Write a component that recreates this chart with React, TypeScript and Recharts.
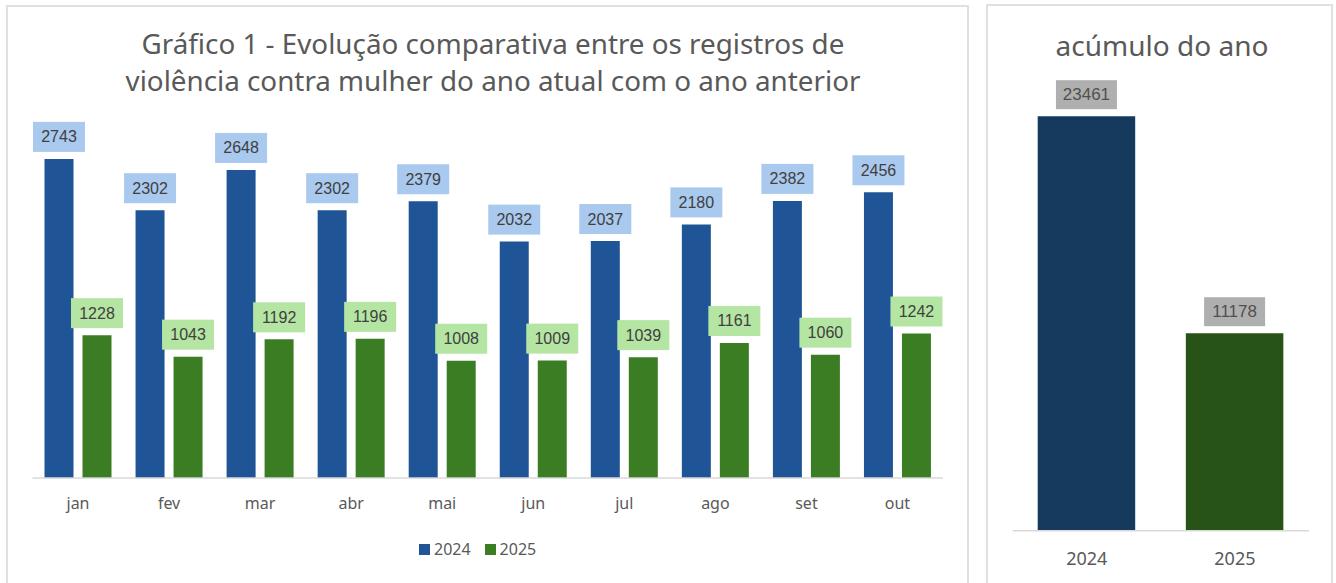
import React from 'react';
import { BarChart, Bar, XAxis, YAxis, LabelList, Cell } from 'recharts';

const months = ['jan', 'fev', 'mar', 'abr', 'mai', 'jun', 'jul', 'ago', 'set', 'out'];
const values2024 = [2743, 2302, 2648, 2302, 2379, 2032, 2037, 2180, 2382, 2456];
const values2025 = [1228, 1043, 1192, 1196, 1008, 1009, 1039, 1161, 1060, 1242];
const seriesNames = ['2024', '2025'];
const totalYears = ['2024', '2025'];
const totals = [23461, 11178];

const titleLeft1 = 'Gráfico 1 - Evolução comparativa entre os registros de';
const titleLeft2 = 'violência contra mulher do ano atual com o ano anterior';
const titleRight = 'acúmulo do ano';

const BLUE = '#1F5596';
const GREEN = '#3B7D23';
const LIGHT_BLUE = '#A9C9EE';
const LIGHT_GREEN = '#B4E5A2';
const DARK_BLUE = '#163A5E';
const DARK_GREEN = '#275317';
const GRAY_BOX = '#AFAFAF';
const TEXT = '#595959';
const SANS = '"Noto Sans", "Open Sans", sans-serif';
const NUM = '"Liberation Sans", Arial, sans-serif';

const monthData = months.map((m, i) => ({ name: m, a: values2024[i], b: values2025[i] }));
const totalData = totalYears.map((y, i) => ({ name: y, v: totals[i] }));

const makeLabel = (fill: string, bw: number, bh: number, fs: number, color: string) => (props: any) => {
  const { x, y, width, value } = props;
  const cx = Number(x) + Number(width) / 2;
  const top = Number(y) - 7 - bh;
  return (
    <g>
      <rect x={cx - bw / 2} y={top} width={bw} height={bh} fill={fill} />
      <text x={cx} y={top + bh / 2} textAnchor="middle" dominantBaseline="central" fontFamily={NUM} fontSize={fs} fill={color}>
        {value}
      </text>
    </g>
  );
};

export default function App() {
  return (
    <div style={{ position: 'absolute', left: 0, top: 0, width: 1336, height: 583, background: '#fff', overflow: 'hidden' }}>
      <div style={{ position: 'absolute', left: 6, top: 5, width: 963, height: 600, border: '2px solid #e0e0e0', boxSizing: 'border-box' }} />
      <div style={{ position: 'absolute', left: 986, top: 4, width: 347, height: 600, border: '2px solid #e0e0e0', boxSizing: 'border-box' }} />

      <div style={{ position: 'absolute', left: 0, top: 25, width: 986, textAlign: 'center', fontFamily: SANS, fontSize: 27.8, lineHeight: '37px', color: TEXT }}>
        <div>{titleLeft1}</div>
        <div>{titleLeft2}</div>
      </div>

      <div style={{ position: 'absolute', left: 0, top: 0 }}>
        <BarChart width={970} height={583} data={monthData} margin={{ top: 129, right: 27, left: 32.5, bottom: 75 }} barGap={9} barSize={29}>
          <YAxis hide domain={[0, 3000]} />
          <XAxis dataKey="name" height={30} axisLine={{ stroke: '#d9d9d9', strokeWidth: 1.5 }} tickLine={false} tickMargin={14}
            tick={{ fill: TEXT, fontSize: 16, fontFamily: SANS }} interval={0} />
          <Bar dataKey="a" name={seriesNames[0]} fill={BLUE} isAnimationActive={false}>
            <LabelList dataKey="a" content={makeLabel(LIGHT_BLUE, 52, 30, 16, '#404040')} />
          </Bar>
          <Bar dataKey="b" name={seriesNames[1]} fill={GREEN} isAnimationActive={false}>
            <LabelList dataKey="b" content={makeLabel(LIGHT_GREEN, 52, 30, 16, '#404040')} />
          </Bar>
        </BarChart>
      </div>

      <div style={{ position: 'absolute', left: 419, top: 538, display: 'flex', alignItems: 'center', fontFamily: SANS, fontSize: 16, color: TEXT }}>
        {seriesNames.map((s, i) => (
          <div key={s} style={{ display: 'flex', alignItems: 'center', marginRight: 14 }}>
            <span style={{ display: 'inline-block', width: 11, height: 11, background: i === 0 ? BLUE : GREEN, marginRight: 4 }} />
            <span>{s}</span>
          </div>
        ))}
      </div>

      <div style={{ position: 'absolute', left: 986, top: 27, width: 352, textAlign: 'center', fontFamily: SANS, fontSize: 28, lineHeight: '37px', color: TEXT }}>
        {titleRight}
      </div>
      <div style={{ position: 'absolute', left: 986, top: 0 }}>
        <BarChart width={347} height={583} data={totalData} margin={{ top: 89, right: 24, left: 26.7, bottom: 22.3 }} barSize={97.5}>
          <YAxis hide domain={[0, 25000]} />
          <XAxis dataKey="name" height={30} axisLine={{ stroke: '#d9d9d9', strokeWidth: 1.5 }} tickLine={false} tickMargin={16}
            tick={{ fill: TEXT, fontSize: 18, fontFamily: SANS }} />
          <Bar dataKey="v" isAnimationActive={false}>
            {totalData.map((d, i) => (
              <Cell key={d.name} fill={i === 0 ? DARK_BLUE : DARK_GREEN} />
            ))}
            <LabelList dataKey="v" content={makeLabel(GRAY_BOX, 61, 29, 17, '#505050')} />
          </Bar>
        </BarChart>
      </div>
    </div>
  );
}
